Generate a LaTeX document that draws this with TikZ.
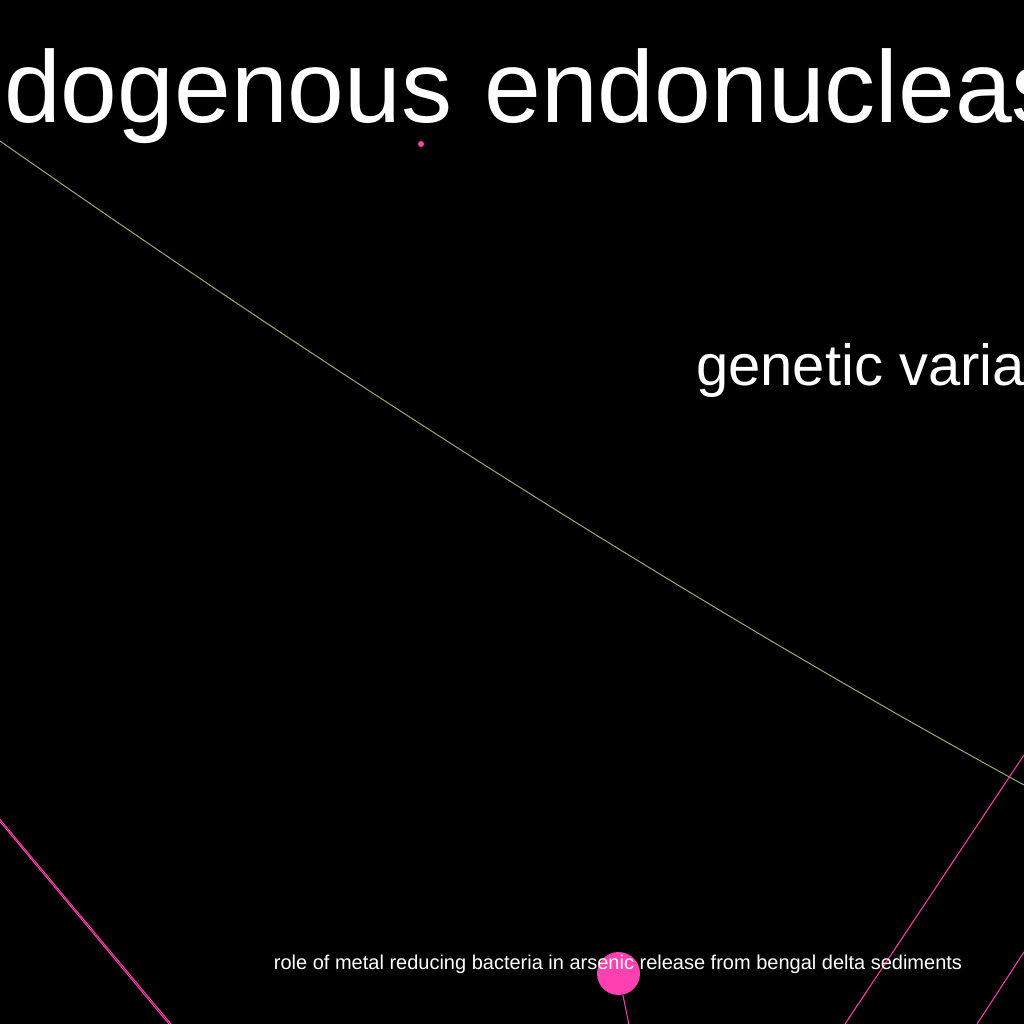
\documentclass[tikz,border=0pt]{standalone}
\usepackage{fontspec}
\setmainfont{Liberation Sans}
\definecolor{hotpink}{RGB}{255,64,176}
\definecolor{olivegrey}{RGB}{152,170,112}
\tikzstyle{vx}=[shape=circle, inner sep=0, fill=hotpink]
\tikzstyle{lbl}=[text=white, inner sep=0]
\tikzstyle{pk}=[draw=hotpink, line width=1pt]

\begin{document}
\begin{tikzpicture}[x=1pt, y=-1pt]
\fill[black] (0,0) rectangle (1024,1024);
\useasboundingbox (0,0) rectangle (1024,1024);
\clip (0,0) rectangle (1024,1024);
% ends of the edges that leave the frame
\coordinate (ya) at (0,141);
\coordinate (yb) at (1024,785);
\coordinate (pa) at (1024,755);
\coordinate (pb) at (845,1024);
\coordinate (pc) at (1024,952);
\coordinate (pd) at (977,1024);
\coordinate (pe) at (0,819.5);
\coordinate (pf) at (171,1024);
\coordinate (pg) at (0,821.5);
\coordinate (ph) at (169,1024);
\coordinate (pi) at (639,1074);
\draw[olivegrey, line width=1pt] (ya) .. controls (360,393) and (701,608) .. (yb);
\draw[pk] (pa)--(pb);
\draw[pk] (pc)--(pd);
\draw[pk] (pe)--(pf);
\draw[pk] (pg)--(ph);
\node at (618.5,973.5)[vx, minimum size=43pt](rm){};
\node at (421,144)[vx, minimum size=6pt](dot){};
\draw[pk] (rm)--(pi);
\node at (4,123)[lbl, anchor=base west, font=\fontsize{102}{102}\selectfont](endo){dogenous\hspace{4pt} endonucleas};
\node at (696,385)[lbl, anchor=base west, font=\fontsize{58}{58}\selectfont](gen){genetic varia};
\node at (618,969)[lbl, anchor=base, font=\fontsize{20}{20}\selectfont](role){role of metal reducing bacteria in arsenic release from bengal delta sediments};
\end{tikzpicture}
\end{document}
